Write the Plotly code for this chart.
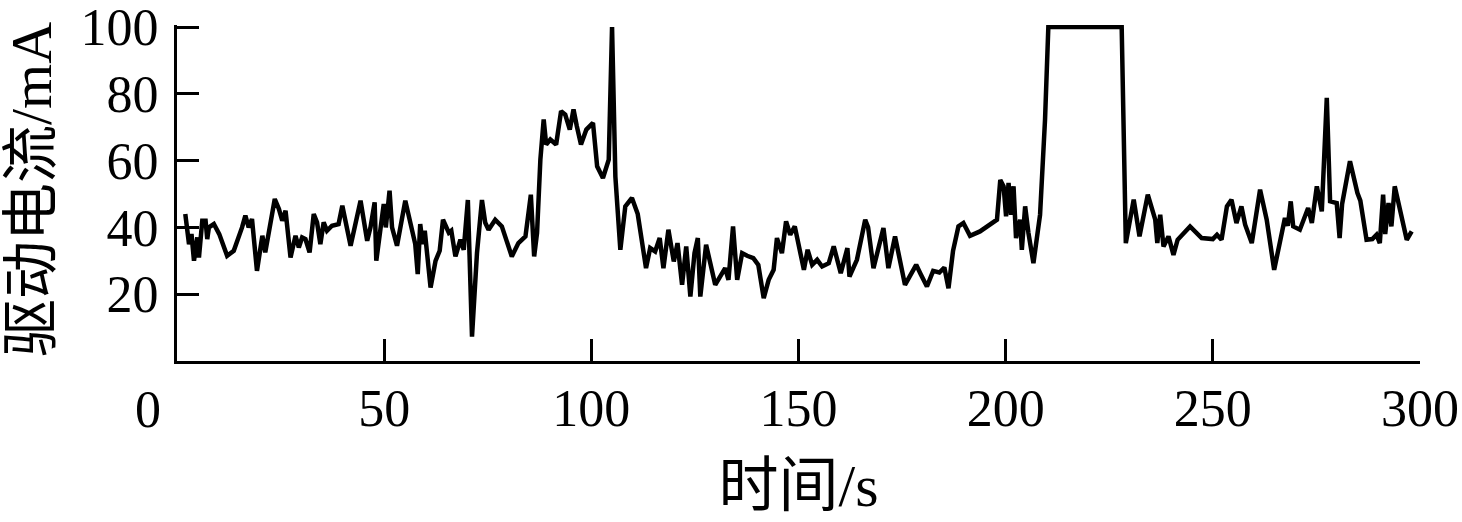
import plotly.graph_objects as go

time_s = [2.0, 2.9, 3.5, 4.1, 4.9, 5.3, 6.1, 6.9, 7.3, 7.7, 8.9, 10.2, 12.1, 13.7, 15.7, 16.5, 17.3, 18.1, 19.3, 20.6,
          21.3, 22.5, 23.6, 24.6, 25.4, 26.2, 27.4, 28.6, 29.4, 30.2, 31.0, 32.0, 33.0, 33.8, 34.6, 35.4, 36.2, 37.4, 39.0, 39.9,
          41.9, 44.3, 45.9, 46.7, 47.7, 48.1, 49.5, 49.9, 50.4, 51.3, 51.9, 53.1, 55.1, 56.7, 57.5, 58.1, 58.7, 59.3, 59.8, 61.2,
          62.4, 63.4, 64.2, 65.6, 66.2, 67.2, 68.4, 69.2, 70.2, 71.2, 72.4, 73.6, 74.4, 75.2, 76.8, 78.4, 80.8, 82.4, 84.1, 85.4,
          86.2, 86.9, 87.7, 88.5, 89.1, 90.1, 91.5, 92.7, 93.7, 94.8, 95.7, 96.5, 97.5, 98.8, 100.4, 101.4, 102.8, 104.2, 105.0, 105.8,
          107.0, 108.2, 109.8, 111.2, 113.2, 114.2, 115.4, 116.5, 117.4, 118.6, 119.9, 120.8, 121.9, 122.9, 123.9, 124.9, 125.7, 126.3, 127.7, 129.9,
          132.3, 133.1, 134.2, 135.2, 136.4, 137.6, 139.1, 140.3, 141.6, 142.8, 144.0, 144.8, 146.0, 147.0, 148.0, 149.1, 150.0, 151.3, 152.2, 153.3,
          154.5, 155.7, 157.3, 158.5, 160.2, 161.8, 162.3, 164.1, 166.1, 166.8, 168.1, 170.5, 171.7, 173.3, 175.7, 178.4, 179.5, 181.0, 182.5, 184.0,
          185.2, 186.2, 187.3, 188.6, 189.8, 191.4, 193.8, 196.2, 197.9, 198.7, 199.5, 200.1, 200.7, 201.3, 201.9, 202.5, 203.5, 203.9, 204.7, 205.5,
          206.7, 208.3, 209.5, 210.3, 228.0, 229.0, 230.9, 232.3, 234.3, 236.1, 236.6, 237.3, 238.1, 239.3, 240.5, 241.5, 244.5, 247.3, 250.0, 251.0,
          252.1, 253.4, 254.5, 255.7, 256.9, 257.8, 259.4, 261.4, 262.2, 263.0, 264.8, 266.2, 267.4, 268.1, 268.8, 269.4, 271.0, 273.0, 273.9, 275.1,
          276.3, 277.5, 278.3, 279.9, 280.6, 281.2, 283.1, 284.9, 285.6, 287.1, 288.5, 289.5, 290.3, 291.1, 291.6, 292.4, 293.1, 293.9, 294.8, 296.8,
          298.0]

current_mA = [44, 35, 38, 30, 37, 31, 42, 42, 36.5, 40, 41, 38, 31.5, 33, 40, 43.5, 40, 42.5, 27, 37.5,
              32.5, 40, 48.5, 45.5, 42, 45, 31, 37.5, 34, 37, 36.5, 32.5, 44, 41.5, 35, 41.5, 39, 40.5, 41, 46.5,
              34.5, 48, 36, 40, 47.5, 30, 42, 47, 40, 51, 40, 34.5, 48, 40, 35, 26, 41, 35, 39, 22,
              30, 33, 42.3, 38.4, 39, 31.3, 36.3, 33.3, 48.2, 7.3, 32.3, 48.2, 41.4, 39.3, 42.3, 40.3, 31.3, 35.3, 37.3, 49.8,
              31.3, 38.4, 60.3, 72.3, 64.8, 66.3, 64.8, 74.8, 73.8, 69.3, 75.3, 70.3, 64.8, 69.3, 71.3, 58.3, 54.8, 60.3, 100, 55.3,
              33.3, 46.3, 48.8, 44, 27.8, 33.8, 32.8, 36.8, 27.8, 39.3, 29.8, 35.3, 22.8, 34.3, 19.3, 32.3, 36.8, 19.3, 34.8, 22.8,
              27.8, 24.3, 40.3, 24.3, 32.3, 31.5, 30.8, 28.8, 18.8, 24.3, 27.3, 36.8, 32.3, 41.8, 37.8, 40.3, 35.3, 27.3, 33.3, 28.8,
              30.3, 28.3, 29.3, 34.3, 26.3, 33.8, 25.3, 30.3, 42.3, 40, 27.8, 39.8, 27.8, 37.3, 22.8, 28.8, 26, 22.3, 27.0, 26.5,
              28.0, 21.8, 33, 40.3, 41.3, 37.5, 38.8, 40.8, 42.3, 54.2, 52.3, 43.3, 53.3, 43.8, 52.3, 36.8, 42.3, 33.3, 46.3, 38.3,
              29.3, 43.8, 72.3, 100, 100, 35.3, 48.3, 37.3, 49.8, 42.3, 35.3, 43.8, 34.3, 37.3, 31.8, 36.3, 40.3, 36.8, 36.5, 37.8,
              36.3, 46.3, 48.3, 41.3, 46.3, 40.8, 35.3, 51.3, 46.8, 42.3, 27.3, 36.3, 42.8, 40.5, 47.8, 40.3, 39.3, 45.8, 41.3, 52.3,
              44.8, 78.8, 47.8, 47.3, 36.8, 47, 59.8, 50.3, 48, 36.3, 36.5, 37.8, 35.3, 49.8, 38, 47.3, 40.3, 52.3, 47, 36.3,
              38.8]

x_tick_vals = [50, 100, 150, 200, 250, 300]
x_tick_text = ["50", "100", "150", "200", "250", "300"]
y_tick_vals = [20, 40, 60, 80, 100]
y_tick_text = ["20", "40", "60", "80", "100"]
x_title = "时间/s"
y_title = "驱动电流/mA"
origin_label = "0"

SERIF = "Liberation Serif, Times New Roman, Noto Sans CJK SC, serif"

fig = go.Figure()
fig.add_trace(go.Scatter(
    x=time_s, y=current_mA, mode="lines",
    line=dict(color="black", width=4.5, shape="linear"),
    showlegend=False, hoverinfo="skip",
))

fig.update_layout(
    width=1462, height=522,
    margin=dict(l=177, r=42, t=25, b=161),
    paper_bgcolor="white", plot_bgcolor="white",
    font=dict(family=SERIF, color="black", size=52),
)

fig.update_xaxes(
    range=[0, 300], showgrid=False, zeroline=False, automargin=False,
    showline=True, linecolor="black", linewidth=3,
    ticks="inside", ticklen=22, tickwidth=3, tickcolor="black",
    tickvals=x_tick_vals, ticktext=x_tick_text,
    tickfont=dict(family=SERIF, size=52),
    ticklabelstandoff=0, ticklabeloverflow="allow",
    title=dict(text=x_title, font=dict(family=SERIF, size=60), standoff=28),
)
fig.update_yaxes(
    range=[0, 100.6], showgrid=False, zeroline=False, automargin=False,
    showline=True, linecolor="black", linewidth=3,
    ticks="inside", ticklen=22, tickwidth=3, tickcolor="black",
    tickvals=y_tick_vals, ticktext=y_tick_text,
    tickfont=dict(family=SERIF, size=52),
    ticklabelstandoff=5, ticklabeloverflow="allow",
)

# y-axis title (rotated annotation for exact position)
fig.add_annotation(
    x=0, y=0.5, xref="paper", yref="paper", xshift=-146, yshift=3,
    xanchor="center", yanchor="middle", textangle=-90,
    text=y_title, showarrow=False,
    font=dict(family=SERIF, size=58, color="black"),
)

fig.add_annotation(
    x=-0.0233, y=0, xref="paper", yref="paper", yshift=-48,
    xanchor="center", yanchor="middle",
    text=origin_label, showarrow=False,
    font=dict(family=SERIF, size=52, color="black"),
)

# remove the page's default body margin so the 1462x522 figure fills the window exactly
fig.write_html(
    "out.html",
    config={"displayModeBar": False},
    post_script="document.body.style.margin='0';document.body.style.overflow='hidden';",
)
